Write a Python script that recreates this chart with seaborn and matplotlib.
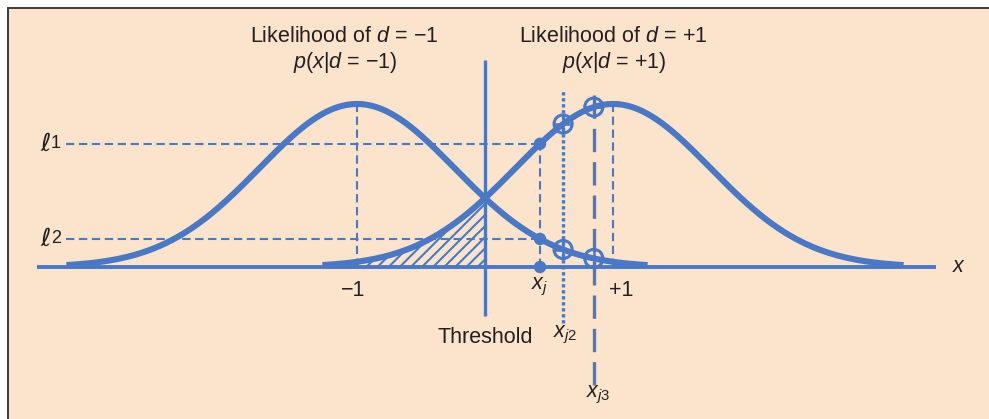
import numpy as np
import pandas as pd
import matplotlib
matplotlib.use("Agg")
import matplotlib.pyplot as plt
from matplotlib.patches import Rectangle
import seaborn as sns

# ---------------- data ----------------
class_means = [-1.0, 1.0]
class_labels = ["d = -1", "d = +1"]
sigma = 0.762            # common spread of both likelihoods
tail_span = 2.27         # each curve drawn over mean +/- tail_span
threshold = 0.0
x_j = 0.43
x_j2 = 0.61
x_j3 = 0.85
axis_extent = [-3.50, 3.52]
level_line_start = -3.27
tick_values = [-1.0, 1.0]
tick_labels = ["\u22121", "+1"]
title_left = ["Likelihood of $d$ = \u22121", "$p$($x$|$d$ = \u22121)"]
title_right = ["Likelihood of $d$ = +1", "$p$($x$|$d$ = +1)"]

# ---------------- style ----------------
sns.set_style("white")
plt.rcParams["font.family"] = ["Liberation Sans", "DejaVu Sans"]
plt.rcParams["mathtext.fontset"] = "custom"
plt.rcParams["mathtext.rm"] = "Liberation Sans"
plt.rcParams["mathtext.it"] = "Liberation Sans:italic"
plt.rcParams["hatch.linewidth"] = 1.5

BLUE = "#4A78C4"
PEACH = "#FCE4CC"
TXT = "#231F20"
FS = 15.5


def pdf(x, m):
    return np.exp(-(x - m) ** 2 / (2 * sigma ** 2)) / (sigma * np.sqrt(2 * np.pi))


frames = []
for m, lab in zip(class_means, class_labels):
    xs = np.linspace(m - tail_span, m + tail_span, 500)
    frames.append(pd.DataFrame({"x": xs, "y": pdf(xs, m), "cls": lab}))
curves = pd.concat(frames, ignore_index=True)

ell1 = pdf(x_j, class_means[1])
ell2 = pdf(x_j, class_means[0])

# ---------------- figure ----------------
W, H, DPI = 989, 419, 100
fig = plt.figure(figsize=(W / DPI, H / DPI), dpi=DPI, facecolor="white")
fig.patches.append(Rectangle((8 / W, -0.5), 2.0, (H - 8) / H + 0.5,
                             transform=fig.transFigure, facecolor=PEACH,
                             edgecolor="#3a3a3a", linewidth=1.4, zorder=-10))
ax = fig.add_axes([0, 0, 1, 1])
ax.set_zorder(5)
ax.set_axis_off()
ax.patch.set_alpha(0)
XU, YU, X0, Y0 = 128.0, 311.4, 485.0, 267.0
ax.set_xlim(-X0 / XU, (W - X0) / XU)
ax.set_ylim(-(H - Y0) / YU, Y0 / YU)

# hatched area: p(x|d=+1) below the threshold
r = curves[(curves.cls == class_labels[1]) & (curves.x <= threshold)]
ax.fill_between(r.x, 0, r.y, hatch="///", facecolor="none", edgecolor=BLUE,
                linewidth=0, zorder=1)

# thin dashed guide lines
dkw = dict(color=BLUE, lw=1.5, dashes=(4, 2.2), dash_capstyle="butt", zorder=2)
for m in class_means:
    ax.plot([m, m], [0, pdf(m, m)], **dkw)
ax.plot([x_j, x_j], [0, ell1], **dkw)
ax.plot([level_line_start, x_j], [ell1, ell1], **dkw)
ax.plot([level_line_start, x_j], [ell2, ell2], **dkw)

# x axis
ax.plot(axis_extent, [0, 0], color=BLUE, lw=2.8, solid_capstyle="butt", zorder=3)

# threshold and probe lines
ax.plot([threshold, threshold], [-0.157, 0.665], color=BLUE, lw=2.4,
        solid_capstyle="butt", zorder=3)
ax.plot([x_j2, x_j2], [-0.18, 0.568], color=BLUE, lw=2.4,
        dashes=(1.0, 0.8), dash_capstyle="butt", zorder=3)
ax.plot([x_j3, x_j3], [-0.379, 0.575], color=BLUE, lw=2.4,
        dashes=(7.0, 3.0), dash_capstyle="butt", zorder=3)

# likelihood curves
sns.lineplot(data=curves, x="x", y="y", hue="cls", palette=[BLUE, BLUE],
             linewidth=4.4, legend=False, estimator=None, sort=True, ax=ax,
             solid_capstyle="butt", zorder=4)

# points
sns.scatterplot(x=[x_j] * 3, y=[ell1, ell2, 0.0], color=BLUE, s=80,
                edgecolor="none", legend=False, ax=ax, zorder=6)
px = [x_j2, x_j2, x_j3, x_j3]
py = [pdf(x_j2, class_means[1]), pdf(x_j2, class_means[0]),
      pdf(x_j3, class_means[1]), pdf(x_j3, class_means[0])]
ax.scatter(px, py, s=170, facecolors="none", edgecolors=BLUE, linewidths=2.2, zorder=6)
ax.scatter(px, py, s=170, marker="+", color=BLUE, linewidths=1.8, zorder=6)

ax.set_xlabel("")
ax.set_ylabel("")


def P(px_, py_):
    return (px_ - X0) / XU, (Y0 - py_) / YU


# texts
tk = dict(color=TXT, fontsize=FS, ha="center", va="center")
for lines, cx in ((title_left, 344), (title_right, 613)):
    ax.text(*P(cx, 36), lines[0], **tk)
    ax.text(*P(cx + 1, 62), lines[1], **tk)

for v, lab, off in zip(tick_values, tick_labels, (-4, 8)):
    ax.text(v + off / XU, P(0, 290)[1], lab, **tk)

for lvl, num in ((ell1, "1"), (ell2, "2")):
    ax.text(P(46, 0)[0], lvl, "\u2113", color=TXT, fontsize=18, ha="center",
            va="center", style="italic", family=["DejaVu Sans"])
    ax.text(P(56, 0)[0], lvl, num, color=TXT, fontsize=13, ha="center", va="center")

ax.text(x_j, P(0, 287)[1], "$x_j$", **tk)
ax.text(threshold, P(0, 337)[1], "Threshold", **tk)
ax.text(x_j2 + 2 / XU, P(0, 335)[1], r"$x_{\mathit{j2}}$", **tk)
ax.text(x_j3 + 4 / XU, P(0, 395)[1], r"$x_{\mathit{j3}}$", **tk)
ax.text(*P(959, 266), "$x$", **tk)

fig.savefig("out.png", dpi=DPI, facecolor="white")
